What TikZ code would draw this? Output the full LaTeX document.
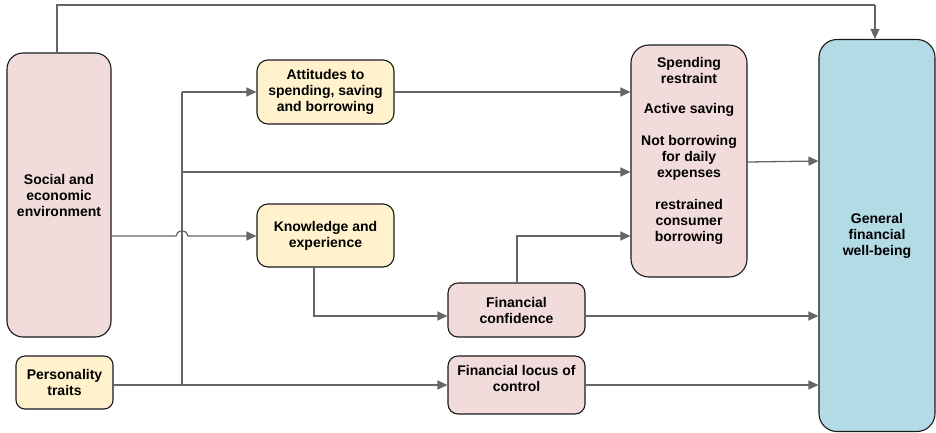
\documentclass[tikz,border=0pt]{standalone}
\usepackage{fontspec}
\setmainfont{Liberation Sans}
\usetikzlibrary{arrows.meta}
\definecolor{pinkf}{HTML}{F2DCDB}
\definecolor{yelf}{HTML}{FFF2CC}
\definecolor{bluef}{HTML}{B3DBE6}
\definecolor{edge}{HTML}{666666}
\begin{document}
\begin{tikzpicture}[x=1pt,y=-1pt,
  box/.style={draw=black!90, line width=1.1pt, align=center, inner sep=0pt,
    font=\fontsize{14}{16}\selectfont\bfseries},
  pinkbox/.style={box, fill=pinkf},
  yelbox/.style={box, fill=yelf},
  conn/.style={draw=edge, line width=1.3pt, -{Triangle[length=10pt,width=9pt]}},
  line/.style={draw=edge, line width=1.3pt}]
\useasboundingbox (0,0) rectangle (936,432);
% nodes
\node[pinkbox, rounded corners=16pt, minimum width=104pt, minimum height=284pt] (soc) at (59,195) {Social and\\economic\\environment};
\node[yelbox, rounded corners=9pt, minimum width=97pt, minimum height=53pt] (pers) at (64.5,382.5) {Personality\\traits};
\node[yelbox, rounded corners=11pt, minimum width=137pt, minimum height=64pt] (att) at (325.5,92) {Attitudes to\\spending, saving\\and borrowing};
\node[yelbox, rounded corners=11pt, minimum width=137pt, minimum height=63pt] (know) at (325.5,235.5) {Knowledge and\\experience};
\node[pinkbox, rounded corners=10pt, minimum width=137pt, minimum height=54pt] (conf) at (516.5,310) {Financial\\confidence};
\node[pinkbox, rounded corners=10pt, minimum width=137pt, minimum height=58pt] (loc) at (516.5,385) {Financial locus of\\control\\[-3pt]};
\node[pinkbox, rounded corners=18pt, minimum width=116pt, minimum height=232pt] (spend) at (689,161) {};
\node[box, fill=bluef, rounded corners=18pt, minimum width=116pt, minimum height=392pt] (gfw) at (877,235.5) {General\\financial\\well-being};
% spending texts
\begin{scope}[every node/.style={align=center, font=\fontsize{14}{16}\selectfont\bfseries}]
\node (s1) at (689,70) {Spending\\restraint};
\node (s2) at (689,110) {Active saving};
\node (s3) at (689,158) {Not borrowing\\for daily\\expenses};
\node (s4) at (689,222) {restrained\\consumer\\borrowing};
\end{scope}
% coordinates
\coordinate (top1) at (57,5);
\coordinate (top2) at (875,5);
\coordinate (vtop) at (182,92);
\coordinate (vmid) at (182,172);
\coordinate (vbot) at (182,385);
\coordinate (kb) at (314,316);
\coordinate (cu) at (517,236);
% connectors
\draw[line] (57,53) -- (top1) -- (top2);
\draw[conn] (top2) -- (gfw.north -| top2);
\draw[line] (vbot) -- (vtop);
\draw[conn] (vtop) -- (att.west);
\draw[conn] (vmid) -- (vmid -| spend.west);
\draw[conn] (att.east) -- (att.east -| spend.west);
\draw[conn] (soc.east |- 0,236) -- (176,236) arc[start angle=180, end angle=0, x radius=6pt, y radius=5pt] -- (know.west |- 0,236);
\draw[conn] (know.south -| kb) -- (kb) -- (conf.west |- kb);
\draw[conn] (pers.east |- vbot) -- (loc.west |- vbot);
\draw[conn] (conf.north -| cu) -- (cu) -- (spend.west |- cu);
\draw[conn] (spend.east |- 0,162) -- (gfw.west |- 0,161);
\draw[conn] (conf.east |- 0,316) -- (gfw.west |- 0,316);
\draw[conn] (loc.east |- vbot) -- (gfw.west |- vbot);
\end{tikzpicture}
\end{document}
